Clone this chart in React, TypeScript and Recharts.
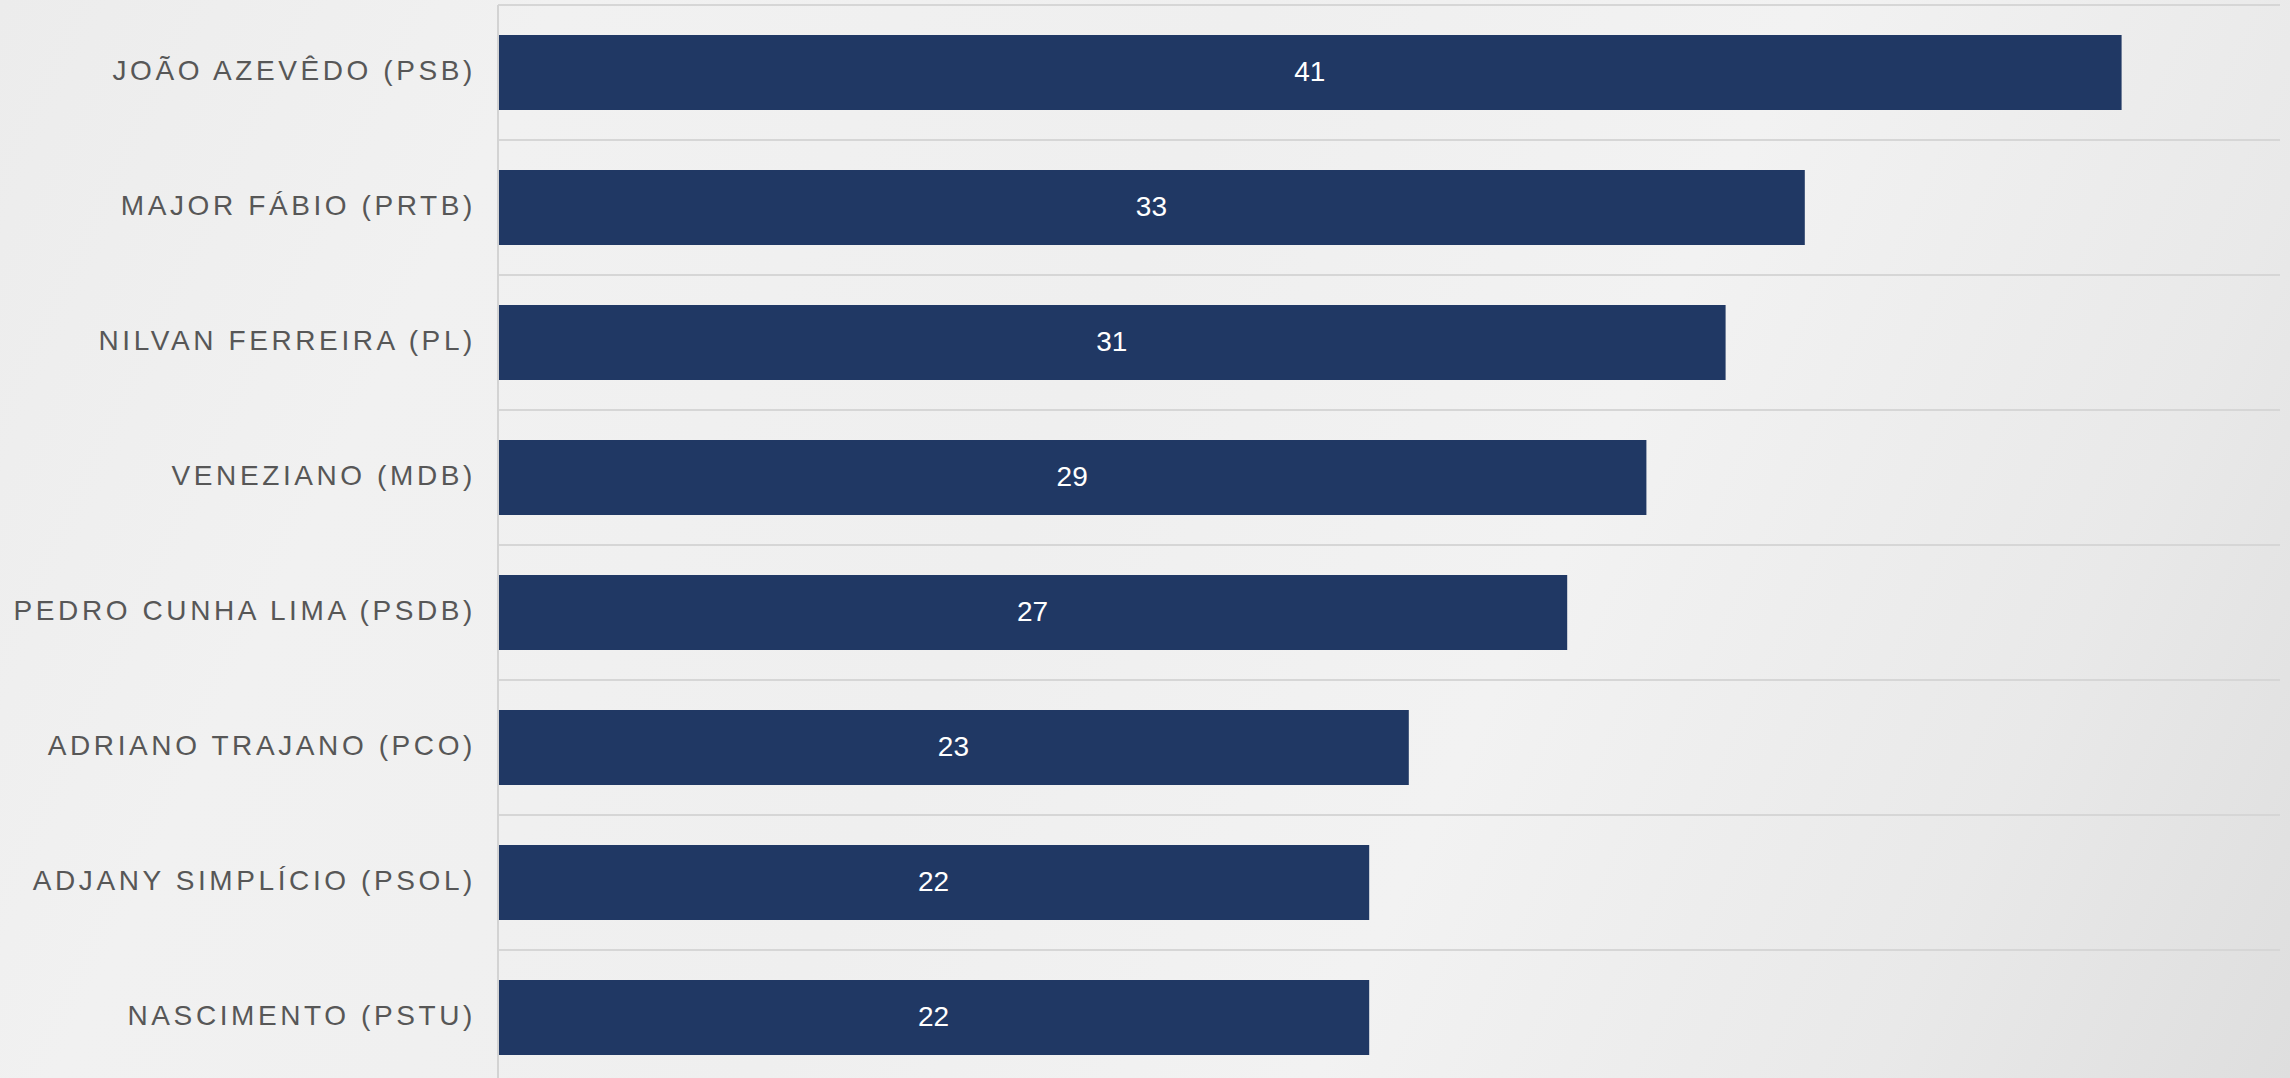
import React from "react";
import { BarChart, Bar, XAxis, YAxis, CartesianGrid, LabelList } from "recharts";

const categories: string[] = [
  "JOÃO AZEVÊDO (PSB)",
  "MAJOR FÁBIO (PRTB)",
  "NILVAN FERREIRA (PL)",
  "VENEZIANO (MDB)",
  "PEDRO CUNHA LIMA (PSDB)",
  "ADRIANO TRAJANO (PCO)",
  "ADJANY SIMPLÍCIO (PSOL)",
  "NASCIMENTO (PSTU)",
];
const values: number[] = [41, 33, 31, 29, 27, 23, 22, 22];
const xDomain: [number, number] = [0, 45];

const data = categories.map((name, i) => ({ name, value: values[i] }));

const FONT = "'Liberation Sans', Arial, Helvetica, sans-serif";

export default function App() {
  const n = categories.length;
  return (
    <div
      style={{
        position: "absolute",
        left: 0,
        top: 0,
        width: 2290,
        height: 1078,
        overflow: "hidden",
        background:
          "linear-gradient(115deg, #ececec 0%, #f1f1f1 20%, #efefef 45%, #f2f2f2 65%, #e9e9e9 85%, #dedede 100%)",
        fontFamily: FONT,
      }}
    >
      <BarChart
        width={2290}
        height={1085}
        data={data}
        layout="vertical"
        margin={{ top: 5, right: 10, bottom: 0, left: 0 }}
        style={{ fontFamily: FONT }}
      >
        <CartesianGrid
          vertical={false}
          stroke="#d6d6d6"
          strokeWidth={2}
          horizontalCoordinatesGenerator={({ offset }: any) =>
            Array.from({ length: n + 1 }, (_, i) => offset.top + (i * offset.height) / n)
          }
        />
        <XAxis type="number" domain={xDomain} hide />
        <YAxis
          type="category"
          dataKey="name"
          width={498}
          axisLine={{ stroke: "#d3d3d3", strokeWidth: 2 }}
          tickLine={false}
          tickMargin={16}
          interval={0}
          tick={{ fill: "#575757", fontSize: 28, letterSpacing: 3.6, fontFamily: FONT, dy: -2 }}
        />
        <Bar dataKey="value" fill="#203864" barSize={75} isAnimationActive={false}>
          <LabelList
            dataKey="value"
            position="center"
            fill="#ffffff"
            fontSize={28}
            fontFamily={FONT}
            dy={-1}
          />
        </Bar>
      </BarChart>
    </div>
  );
}
